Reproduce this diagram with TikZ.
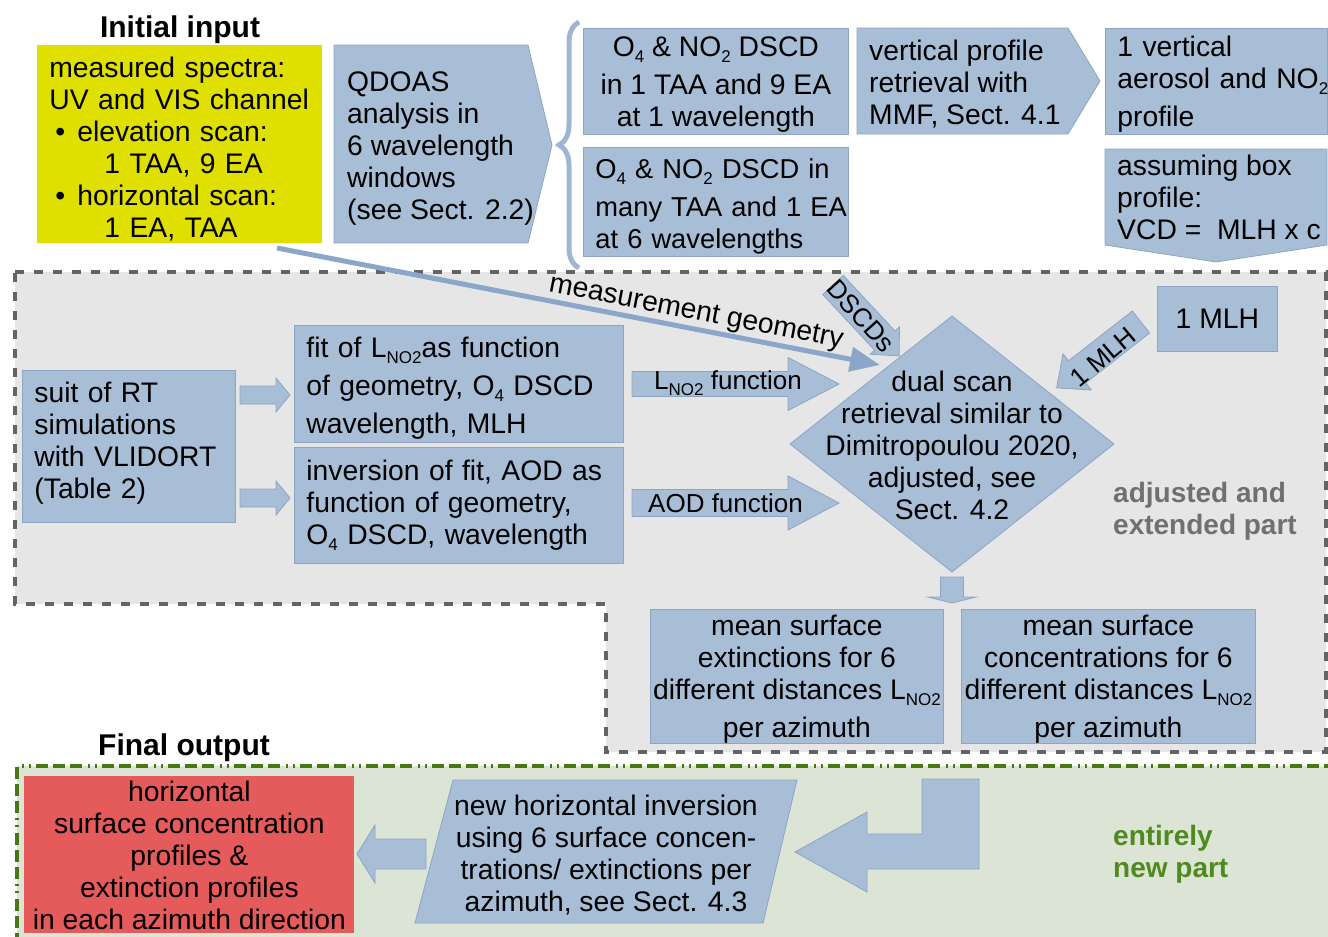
\documentclass[tikz,border=0pt]{standalone}
\usepackage{fontspec}
\setmainfont{Liberation Sans}
\usetikzlibrary{arrows.meta,decorations.pathreplacing}

\definecolor{boxblue}{RGB}{168,190,214}
\definecolor{boxedge}{RGB}{140,165,196}
\definecolor{linkblue}{RGB}{138,166,200}
\definecolor{bracecol}{RGB}{158,182,210}
\definecolor{inyellow}{RGB}{224,224,0}
\definecolor{outred}{RGB}{229,90,90}
\definecolor{oldgrey}{RGB}{230,230,230}
\definecolor{olddash}{RGB}{100,100,100}
\definecolor{partgrey}{RGB}{112,112,112}
\definecolor{newgreen}{RGB}{219,228,213}
\definecolor{newdash}{RGB}{72,120,20}
\definecolor{newtext}{RGB}{79,138,30}

\newcommand{\txt}{\fontsize{28.3}{32}\selectfont}
\newcommand{\smtxt}{\fontsize{26}{30}\selectfont}
\newcommand{\dsub}[1]{\raisebox{-6pt}{\fontsize{17}{17}\selectfont #1}}

\tikzset{
  pics/fatarrow/.style args={#1/#2/#3/#4}{code={
    \filldraw[blk] (0,-#2) -- (#1-#4,-#2) -- (#1-#4,-#3) -- (#1,0)
      -- (#1-#4,#3) -- (#1-#4,#2) -- (0,#2) -- cycle;}}
}

\begin{document}
\begin{tikzpicture}[x=1pt,y=-1pt,
  blk/.style={fill=boxblue,draw=boxedge,line width=0.8pt},
  box/.style={blk,anchor=north west,inner sep=0pt,font=\txt},
  lbl/.style={inner sep=0pt,font=\txt,text=black},
  heading/.style={inner sep=0pt,anchor=base,font=\fontsize{30}{34}\selectfont\bfseries},
  part/.style={inner sep=0pt,align=left,anchor=west,font=\fontsize{28}{32}\selectfont\bfseries}]
\useasboundingbox (0,0) rectangle (1328,937);
\clip (0,0) rectangle (1328,937);

\filldraw[fill=oldgrey,draw=olddash,line width=4pt,dash pattern=on 9pt off 10pt] (15,272) -- (1326,272) -- (1326,752) -- (606,752) -- (606,604) -- (15,604) -- cycle;
\fill[newgreen] (17,766) rectangle (1340,945);
\draw[newdash,line width=3.5pt,dash pattern=on 12pt off 5pt on 12pt off 5pt on 12pt off 6pt on 2pt off 5pt on 2pt off 5pt] (17,945) -- (17,766) -- (1340,766);

\node[heading] (inhead) at (180,37) {Initial input};
\node[heading] (outhead) at (184,755) {Final output};

\node[box,fill=inyellow,draw=none,minimum width=285pt,minimum height=198pt,text width=261pt,align=left] (input) at (37,45) {\rule{0pt}{30pt}measured spectra:\\UV and VIS channel\\\hspace*{6pt}\textbullet\hspace{12pt}elevation scan:\\\hspace*{55pt}1 TAA, 9 EA\\\hspace*{6pt}\textbullet\hspace{12pt}horizontal scan:\\\hspace*{55pt}1 EA, TAA};

\filldraw[blk] (334,45) -- (528,45) -- (552,145) -- (528,243) -- (334,243) -- cycle;
\node[lbl,anchor=west,align=left] (qdoas) at (347,149) {QDOAS\\analysis in\\6 wavelength\\windows\\(see Sect. 2.2)};

\draw[bracecol,line width=5pt,decorate,decoration={brace,amplitude=20pt}] (579,268) -- (579,22);

\node[box,minimum width=265pt,minimum height=106pt,align=center] (dscdone) at (583,28) {\rule{0pt}{27pt}O\dsub{4} \& NO\dsub{2} DSCD\\[6pt]in 1 TAA and 9 EA\\at 1 wavelength};
\node[box,font=\fontsize{27.3}{32}\selectfont,minimum width=265pt,minimum height=109pt,text width=241pt,align=left] (dscdmany) at (583,147) {\rule{0pt}{28pt}\mbox{O\dsub{4} \& NO\dsub{2} DSCD in}\\[6pt]\mbox{many TAA and 1 EA}\\at 6 wavelengths};

\filldraw[blk] (857,28) -- (1068,28) -- (1100,81) -- (1068,134) -- (857,134) -- cycle;
\node[lbl,anchor=west,align=left] (mmf) at (869,84) {vertical profile\\retrieval with\\MMF, Sect. 4.1};

\node[box,minimum width=222pt,minimum height=106pt,text width=198pt,align=left] (vertprof) at (1105,28) {\rule{0pt}{26pt}1 vertical\\\mbox{aerosol and NO\dsub{2}}\\[6pt]profile};

\filldraw[blk] (1105,149) -- (1327,149) -- (1327,245) -- (1216,262) -- (1105,245) -- cycle;
\node[lbl,anchor=west,align=left] (boxprof) at (1117,197) {assuming box\\profile:\\VCD = \ MLH x c};

\node[box,minimum width=213pt,minimum height=152pt,text width=189pt,align=left] (rtsim) at (22,370) {suit of RT\\simulations\\with VLIDORT\\(Table 2)\rule[-12pt]{0pt}{12pt}};
\pic at (240,395) {fatarrow=50/9/17/14};
\pic at (240,498) {fatarrow=50/9/17/14};

\node[box,minimum width=329pt,minimum height=117pt,text width=305pt,align=left] (fitl) at (294,325) {\rule{0pt}{30pt}fit of L\dsub{NO2}as function\\[6pt]of geometry, O\dsub{4} DSCD\\[6pt]wavelength, MLH};
\node[box,minimum width=329pt,minimum height=116pt,text width=305pt,align=left] (fitaod) at (294,447) {inversion of fit, AOD as\\function of geometry,\\O\dsub{4} DSCD, wavelength};

\pic at (632,384) {fatarrow=207/12.5/26.5/51};
\node[lbl,font=\smtxt,anchor=west] (lfunc) at (654,383) {L\dsub{NO2} function};
\pic at (632,503) {fatarrow=207/13.5/27/51};
\node[lbl,font=\smtxt,anchor=west] (aodfunc) at (648,503) {AOD function};

\filldraw[blk] (952,316) -- (1114,444) -- (952,572) -- (790,444) -- cycle;
\node[lbl,align=center] (dualscan) at (952,445) {dual scan\\retrieval similar to\\Dimitropoulou 2020,\\adjusted, see\\Sect. 4.2};

\coordinate (geomtail) at (277,248);
\coordinate (geomtip) at (880,365);
\draw[linkblue,line width=5pt,-{Triangle[length=30pt,width=24pt]}] (geomtail) -- (geomtip) node[lbl,pos=0.69,sloped,above=1pt] (geomlabel) {measurement geometry};

\pic[rotate=-47] at (833,285) {fatarrow=97/14/20/21};
\node[lbl,font=\smtxt,rotate=-48] (dscdlabel) at (861,316) {DSCDs};

\node[box,minimum width=120pt,minimum height=65pt,align=center] (mlh) at (1157,286) {1 MLH};
\pic[rotate=218] at (1141,322) {fatarrow=107/14/23/26};
\node[lbl,font=\smtxt,rotate=40] (mlhlabel) at (1103,357) {1 MLH};

\node[part,text=partgrey] (oldpart) at (1113,511) {adjusted and\\extended part};

\pic[rotate=-90] at (952,577) {fatarrow=26/11.5/24/6};
\node[box,minimum width=293pt,minimum height=134pt,align=center] (sfext) at (650,609) {\rule{0pt}{26pt}mean surface\\extinctions for 6\\different distances L\dsub{NO2}\\[6pt]per azimuth};
\node[box,minimum width=294pt,minimum height=134pt,align=center] (sfconc) at (961,609) {\rule{0pt}{26pt}mean surface\\concentrations for 6\\different distances L\dsub{NO2}\\[6pt]per azimuth};

\node[box,fill=outred,draw=none,minimum width=330pt,minimum height=157pt,align=center] (result) at (24,776) {horizontal\\surface concentration\\profiles \&\\extinction profiles\\in each azimuth direction};
\pic[rotate=180] at (426,854) {fatarrow=69/15/29/18};
\filldraw[blk] (453,780) -- (797,780) -- (763,923) -- (415,923) -- cycle;
\node[lbl,align=center] (hinv) at (606,855) {new horizontal inversion\\using 6 surface concen-\\trations/ extinctions per\\azimuth, see Sect. 4.3};
\filldraw[blk] (922,779) -- (979,779) -- (979,869) -- (867,869) -- (867,892) -- (795,852) -- (867,812) -- (867,834) -- (922,834) -- cycle;
\node[part,text=newtext] (newpart) at (1113,854) {entirely\\new part};
\end{tikzpicture}
\end{document}
